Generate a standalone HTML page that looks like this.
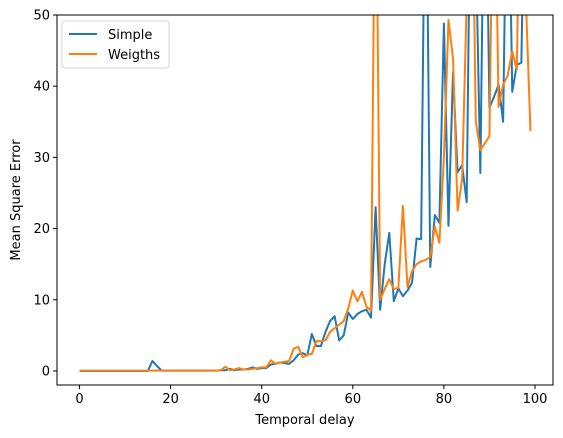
<!DOCTYPE html>
<html><head><meta charset="utf-8"><style>
body{margin:0;background:#fff;}
svg{display:block;font-family:"DejaVu Sans","Liberation Sans",sans-serif;}
</style></head><body>
<svg id="chart" width="563" height="438" viewBox="0 0 563 438">
<defs><clipPath id="clip"><rect x="57" y="15" width="496" height="370"/></clipPath></defs>
<g id="series" clip-path="url(#clip)"></g>
<rect x="57" y="15" width="496" height="370" fill="none" stroke="#000" stroke-width="1"/>
<g id="axes"></g>
<text x="305" y="424" font-size="13" text-anchor="middle">Temporal delay</text>
<text transform="translate(20,200) rotate(-90)" font-size="13" text-anchor="middle">Mean Square Error</text>
<g>
<rect x="62" y="21" width="107" height="47" rx="3" fill="#fff" stroke="#ccc" stroke-opacity="0.8"/>
<g><line x1="69" y1="34" x2="97" y2="34" stroke="#1f77b4" stroke-width="2"/><text x="108" y="39" font-size="13">Simple</text></g>
<g><line x1="69" y1="54" x2="97" y2="54" stroke="#ff7f0e" stroke-width="2"/><text x="108" y="59" font-size="13">Weigths</text></g>
</g>
</svg>
<script>
const xTicks=[0,20,40,60,80,100];
const yTicks=[0,10,20,30,40,50];
const simple=[0,0,0,0,0,0,0,0,0,0,0,0,0,0,0,0,1.4,0.7,0.05,0.05,0.05,0.05,0.05,0.05,0.05,0.05,0.05,0.05,0.05,0.05,0.05,0.1,0.1,0.3,0.1,0.2,0.2,0.3,0.5,0.3,0.4,0.4,0.9,1.0,1.2,1.1,1.0,1.5,2.3,2.5,2.2,5.2,3.5,3.5,5.5,7.0,7.7,4.3,5.0,8.2,7.3,8.0,8.4,8.6,7.5,23,8.6,15,19.4,9.8,11.6,10.5,11.3,12.4,18.6,18.5,80,14.6,21.9,20.8,48.8,20.4,42,27.9,28.9,23.7,80,60,27.8,80,37,38.5,40.2,35,80,39.2,43,43.3,80,80];
const weigths=[0.05,0.05,0.05,0.05,0.05,0.05,0.05,0.05,0.05,0.05,0.05,0.05,0.05,0.05,0.05,0.05,0.05,0.05,0.05,0.05,0.05,0.05,0.05,0.05,0.05,0.05,0.05,0.05,0.05,0.05,0.05,0.1,0.6,0.1,0.2,0.4,0.2,0.2,0.3,0.4,0.5,0.5,1.5,1.0,1.2,1.3,1.4,3.1,3.4,1.9,2.3,2.4,4.2,4.2,4.3,5.5,6.0,6.5,7.0,8.8,11.3,9.8,11.1,9.0,8.5,80,10,11.5,12.9,11.5,11.7,23.2,11.8,14,15,15.4,15.6,16,20.3,18,30,49.3,43.9,22.5,27,52,80,35,31,32,33,80,37.1,40.2,41.5,44.9,42.3,80,52,33.7];
const xMin=-4.95,xMax=103.95,yMin=-1.97,yMax=50;
const L=57,R=553,T=15,B=385;
function sx(v){return L+(v-xMin)/(xMax-xMin)*(R-L);}
function sy(v){return B-(v-yMin)/(yMax-yMin)*(B-T);}
const NS="http://www.w3.org/2000/svg";
const axes=document.getElementById('axes');
xTicks.forEach(t=>{
 const l=document.createElementNS(NS,'line');
 
 
 l.setAttribute('x1',sx(t));l.setAttribute('x2',sx(t));l.setAttribute('y1',B);l.setAttribute('y2',B+4);l.setAttribute('stroke','#000');
 axes.appendChild(l);
 const tx=document.createElementNS(NS,'text');
 
 
 tx.setAttribute('x',sx(t));tx.setAttribute('y',B+18);tx.setAttribute('font-size','13');tx.setAttribute('text-anchor','middle');
 tx.textContent=t;axes.appendChild(tx);
});
yTicks.forEach(t=>{
 const l=document.createElementNS(NS,'line');
 
 
 l.setAttribute('x1',L-4);l.setAttribute('x2',L);l.setAttribute('y1',sy(t));l.setAttribute('y2',sy(t));l.setAttribute('stroke','#000');
 axes.appendChild(l);
 const tx=document.createElementNS(NS,'text');
 
 
 tx.setAttribute('x',L-7);tx.setAttribute('y',sy(t)+4.5);tx.setAttribute('font-size','13');tx.setAttribute('text-anchor','end');
 tx.textContent=t;axes.appendChild(tx);
});
const g=document.getElementById('series');
function draw(arr,color,name){
 const p=document.createElementNS(NS,'polyline');
 
 
 p.setAttribute('points',arr.map((v,i)=>sx(i).toFixed(2)+','+sy(v).toFixed(2)).join(' '));
 p.setAttribute('fill','none');p.setAttribute('stroke',color);p.setAttribute('stroke-width','2');p.setAttribute('stroke-linejoin','round');
 g.appendChild(p);
}
draw(simple,'#1f77b4','simple-line');
draw(weigths,'#ff7f0e','weigths-line');
</script>
</body></html>
